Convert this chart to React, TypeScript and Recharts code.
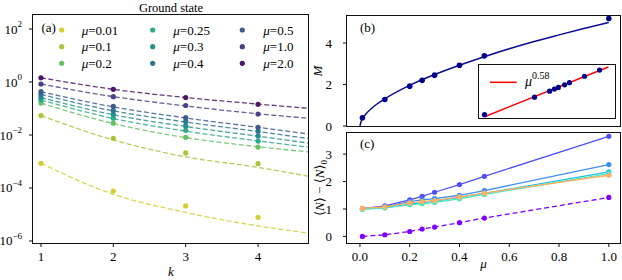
import { ComposedChart, Line, Scatter, XAxis, YAxis } from 'recharts';

const SERIF = "'Liberation Serif', 'Times New Roman', 'DejaVu Serif', serif";
const INK = '#111';

// ---------- (a) ground state, value vs k for each mu
const kPoints = [1, 2, 3, 4];
const kFit = [1, 2, 3, 4, 4.69];
const muLabels = ['0.01', '0.1', '0.2', '0.25', '0.3', '0.4', '0.5', '1.0', '2.0'];
const muColors = ['#d6cd32', '#a8c53c', '#66c163', '#2fa98a', '#23908d', '#2d7590', '#3f5b8e', '#4d3f86', '#4b1766'];
const aTicksY = [1e-6, 1e-4, 1e-2, 1, 100];
const aTicksX = [1, 2, 3, 4];

const gs001 = [8.5e-4, 7.7e-5, 2.1e-5, 7.8e-6];
const gs01 = [0.054, 7.5e-3, 2.1e-3, 8.3e-4];
const gs02 = [0.16, 0.028, 8.2e-3, 3.5e-3];
const gs025 = [0.21, 0.043, 0.015, 5.9e-3];
const gs03 = [0.26, 0.06, 0.022, 9.2e-3];
const gs04 = [0.34, 0.083, 0.032, 0.014];
const gs05 = [0.43, 0.12, 0.045, 0.0195];
const gs10 = [0.84, 0.28, 0.13, 0.062];
const gs20 = [1.45, 0.53, 0.26, 0.144];

const fit001 = [8.5e-4, 5.8e-5, 1.2e-5, 3.7e-6, 2.0e-6];
const fit01 = [0.054, 6.5e-3, 1.5e-3, 6.0e-4, 2.8e-4];
const fit02 = [0.16, 0.027, 8.0e-3, 3.6e-3, 2.3e-3];
const fit025 = [0.21, 0.042, 0.014, 6.0e-3, 3.5e-3];
const fit03 = [0.26, 0.058, 0.021, 9.0e-3, 5.0e-3];
const fit04 = [0.34, 0.082, 0.031, 0.0135, 7.4e-3];
const fit05 = [0.43, 0.115, 0.044, 0.0195, 0.011];
const fit10 = [0.84, 0.28, 0.125, 0.063, 0.043];
const fit20 = [1.45, 0.53, 0.26, 0.147, 0.102];

const gsPoints = [gs001, gs01, gs02, gs025, gs03, gs04, gs05, gs10, gs20];
const gsFits = [fit001, fit01, fit02, fit025, fit03, fit04, fit05, fit10, fit20];

// ---------- (b) M vs mu, with power-law inset
const muB = [0.01, 0.1, 0.2, 0.25, 0.3, 0.4, 0.5, 1.0];
const mB = [0.4, 1.28, 1.92, 2.2, 2.45, 2.93, 3.38, 5.18];
const muCurve = [0, 0.005, 0.01, 0.02, 0.05, 0.1, 0.2, 0.3, 0.4, 0.5, 0.6, 0.7, 0.8, 0.9, 1.0];
const mCurve = [0, 0.23, 0.35, 0.52, 0.88, 1.31, 1.96, 2.48, 2.93, 3.34, 3.72, 4.07, 4.39, 4.7, 4.99];
const bTicksY = [0, 2, 4];

const muInset = [0.01, 0.1, 0.2, 0.25, 0.3, 0.4, 0.5, 1.0, 2.0];
const mInset = [0.4, 1.28, 1.92, 2.2, 2.45, 2.93, 3.38, 5.18, 7.8];
const muPow = [0.01, 3.0];
const mPow = [0.35, 9.6];
const insetTicksX = [0.008, 0.009, 0.01, 0.02, 0.03, 0.04, 0.05, 0.06, 0.07, 0.08, 0.09, 0.1, 0.2, 0.3, 0.4, 0.5, 0.6, 0.7, 0.8, 0.9, 1, 2, 3, 4];
const insetMajorX = [0.01, 0.1, 1];
const insetTicksY = [0.3, 0.4, 0.5, 0.6, 0.7, 0.8, 0.9, 1, 2, 3, 4, 5, 6, 7, 8, 9, 10];
const insetMajorY = [1, 10];

// ---------- (c) <N> - <N>_0 vs mu
const muC = [0.01, 0.1, 0.2, 0.25, 0.3, 0.4, 0.5, 1.0];
const nViolet = [1.01, 1.11, 1.33, 1.46, 1.61, 1.89, 2.19, 3.65];
const nBlue = [1.01, 1.08, 1.27, 1.33, 1.38, 1.5, 1.67, 2.62];
const nCyan = [1.0, 1.05, 1.18, 1.23, 1.28, 1.42, 1.57, 2.35];
const nAqua = [0.99, 1.04, 1.15, 1.19, 1.24, 1.37, 1.53, 2.29];
const nOrange = [1.02, 1.08, 1.22, 1.27, 1.31, 1.44, 1.58, 2.23];
const nDashed = [0.0, 0.06, 0.18, 0.27, 0.34, 0.5, 0.67, 1.42];
const cSeries = [
  { ys: nViolet, color: '#5050f8' },
  { ys: nBlue, color: '#3f8ef3' },
  { ys: nCyan, color: '#1ec3e3' },
  { ys: nAqua, color: '#50e6c0' },
  { ys: nOrange, color: '#ffb060' },
];
const cTicksX = [0, 0.2, 0.4, 0.6, 0.8, 1.0];
const cTicksY = [0, 1, 2, 3];

// panel boxes (page pixels)
const PA = { left: 33, top: 15, right: 308, bottom: 243 };
const PB = { left: 347, top: 16, right: 620, bottom: 126 };
const PC = { left: 347, top: 133, right: 620, bottom: 243 };
const PI = { left: 478, top: 64, right: 616, bottom: 119 };

const toXY = (xs: number[], ys: number[]) => xs.map((x, i) => ({ x, y: ys[i] }));
const dot = (fill: string, r: number) => (p: any) => <circle cx={p.cx} cy={p.cy} r={r} fill={fill} />;
const tickFont = { fontSize: 13, fill: '#000', fontFamily: SERIF };

const PowTick = (p: any) => {
  const e = Math.round(Math.log10(p.payload.value));
  return (
    <text x={p.x} y={p.y} textAnchor="end" fontFamily={SERIF} fontSize={13} fill="#000">
      <tspan dy={4.5}>10</tspan>
      <tspan dy={-6.5} fontSize={9}>{e < 0 ? `\u2212${-e}` : `${e}`}</tspan>
    </text>
  );
};

const insetXTick = (p: any) => (
  <line x1={p.x} y1={p.y} x2={p.x} y2={p.y - (insetMajorX.includes(p.payload.value) ? 4 : 2)} stroke={INK} strokeWidth={0.8} />
);
const insetYTick = (p: any) => (
  <line x1={p.x} y1={p.y} x2={p.x - (insetMajorY.includes(p.payload.value) ? 4 : 2)} y2={p.y} stroke={INK} strokeWidth={0.8} />
);

const muDomain: [number, number] = [-0.052, 1.045];

export default function App() {
  const legendCols = [61.7, 152.7, 242.3];
  const legendText = [81.7, 173.3, 263.3];
  return (
    <div style={{ position: 'absolute', left: 0, top: 0, width: 622, height: 280, background: '#fff', overflow: 'hidden' }}>
      {/* (a) */}
      <div style={{ position: 'absolute', left: 0, top: 0 }}>
        <ComposedChart width={PA.right + 4} height={280} margin={{ top: PA.top, right: 4, left: 0, bottom: 0 }}>
          <XAxis dataKey="x" type="number" domain={[0.89, 4.69]} allowDataOverflow ticks={aTicksX} interval={0}
            height={280 - PA.bottom} axisLine={false} tickSize={4} tickMargin={5} tick={tickFont} stroke={INK} />
          <YAxis type="number" scale="log" domain={[8.4e-7, 338]} allowDataOverflow ticks={aTicksY} interval={0}
            width={PA.left} axisLine={false} tickSize={4} tickMargin={7} tick={PowTick} stroke={INK} />
          {gsFits.map((f, i) => (
            <Line key={`f${i}`} data={toXY(kFit, f)} dataKey="y" type="monotone" stroke={muColors[i]} strokeOpacity={0.85}
              strokeWidth={1.3} strokeDasharray="5 2.5" dot={false} isAnimationActive={false} />
          ))}
          {gsPoints.map((pts, i) => (
            <Scatter key={`p${i}`} data={toXY(kPoints, pts)} dataKey="y" fill={muColors[i]} shape={dot(muColors[i], 2.6)} isAnimationActive={false} />
          ))}
        </ComposedChart>
      </div>

      {/* (b) */}
      <div style={{ position: 'absolute', left: 300, top: 0 }}>
        <ComposedChart width={322} height={PB.bottom + 12} margin={{ top: PB.top, right: 322 - (PB.right - 300), left: 0, bottom: 12 }}>
          <XAxis dataKey="x" type="number" domain={muDomain} allowDataOverflow hide />
          <YAxis type="number" domain={[0, 5.3]} allowDataOverflow ticks={bTicksY} interval={0}
            width={PB.left - 300} axisLine={false} tickSize={4} tickMargin={11} tick={tickFont} stroke={INK} />
          <Line data={toXY(muCurve, mCurve)} dataKey="y" type="monotone" stroke="#0b0b8f" strokeWidth={1.5} dot={false} isAnimationActive={false} />
          <Scatter data={toXY(muB, mB)} dataKey="y" fill="#00008b" shape={dot('#00008b', 2.8)} isAnimationActive={false} />
        </ComposedChart>
      </div>

      {/* inset */}
      <div style={{ position: 'absolute', left: PI.left, top: PI.top, width: PI.right - PI.left, height: PI.bottom - PI.top, background: '#fff', border: `1px solid ${INK}`, boxSizing: 'border-box' }} />
      <div style={{ position: 'absolute', left: PI.left - 6, top: PI.top - 5 }}>
        <ComposedChart width={PI.right - PI.left + 10} height={PI.bottom - PI.top + 7} margin={{ top: 5, right: 4, left: 6, bottom: 2 }}>
          <XAxis dataKey="x" type="number" scale="log" domain={[0.0074, 4.27]} allowDataOverflow orientation="top" height={0}
            ticks={insetTicksX} interval={0} axisLine={false} tickLine={false} tickSize={0} tickMargin={0} tick={insetXTick} />
          <YAxis type="number" scale="log" domain={[0.3, 11.7]} allowDataOverflow width={0}
            ticks={insetTicksY} interval={0} axisLine={false} tickLine={false} tickSize={0} tickMargin={0} tick={insetYTick} />
          <Line data={toXY(muPow, mPow)} dataKey="y" type="linear" stroke="#ff0000" strokeWidth={1.5} dot={false} isAnimationActive={false} />
          <Scatter data={toXY(muInset, mInset)} dataKey="y" fill="#00008b" shape={dot('#00008b', 2.6)} isAnimationActive={false} />
        </ComposedChart>
      </div>

      {/* (c) */}
      <div style={{ position: 'absolute', left: 300, top: 128 }}>
        <ComposedChart width={322} height={152} margin={{ top: PC.top - 128, right: 322 - (PC.right - 300), left: 0, bottom: 0 }}>
          <XAxis dataKey="x" type="number" domain={muDomain} allowDataOverflow ticks={cTicksX} interval={0}
            tickFormatter={(v: number) => v.toFixed(1)} height={280 - PC.bottom} axisLine={false} tickSize={4} tickMargin={5} tick={tickFont} stroke={INK} />
          <YAxis type="number" domain={[-0.24, 3.77]} allowDataOverflow ticks={cTicksY} interval={0}
            width={PC.left - 300} axisLine={false} tickSize={4} tickMargin={11} tick={tickFont} stroke={INK} />
          <Line data={toXY(muC, nDashed)} dataKey="y" type="linear" stroke="#8000ff" strokeWidth={1.3} strokeDasharray="5 3" dot={false} isAnimationActive={false} />
          <Scatter data={toXY(muC, nDashed)} dataKey="y" fill="#8000ff" shape={dot('#8000ff', 2.6)} isAnimationActive={false} />
          {cSeries.map((s, i) => (
            <Line key={`l${i}`} data={toXY(muC, s.ys)} dataKey="y" type="linear" stroke={s.color} strokeWidth={1.3} dot={false} isAnimationActive={false} />
          ))}
          {cSeries.map((s, i) => (
            <Scatter key={`s${i}`} data={toXY(muC, s.ys)} dataKey="y" fill={s.color} shape={dot(s.color, 2.6)} isAnimationActive={false} />
          ))}
        </ComposedChart>
      </div>

      {/* frames, labels, legends */}
      <svg width={622} height={280} style={{ position: 'absolute', left: 0, top: 0, pointerEvents: 'none' }} fontFamily={SERIF} fill="#000">
        {[PA, PB, PC].map((b, i) => (
          <rect key={i} x={b.left - 0.5} y={b.top - 0.5} width={b.right - b.left + 1} height={b.bottom - b.top + 1} fill="none" stroke={INK} strokeWidth={1} />
        ))}
        <text x={171} y={11.5} textAnchor="middle" fontSize={12.5}>Ground state</text>
        <text x={41.5} y={32} fontSize={13}>(a)</text>
        <text x={360} y={32} fontSize={13}>(b)</text>
        <text x={360} y={148} fontSize={13}>(c)</text>
        <text x={171} y={276} textAnchor="middle" fontSize={13} fontStyle="italic">k</text>
        <text x={483.5} y={267.5} textAnchor="middle" fontSize={13} fontStyle="italic">μ</text>
        <text transform="translate(322,71) rotate(-90)" textAnchor="middle" fontSize={13} fontStyle="italic">M</text>
        <text transform="translate(324,188) rotate(-90)" textAnchor="middle" fontSize={13}>
          ⟨<tspan fontStyle="italic">N</tspan>⟩ − ⟨<tspan fontStyle="italic">N</tspan>⟩<tspan dy={3} fontSize={9}>0</tspan>
        </text>
        {muLabels.map((m, i) => {
          const col = Math.floor(i / 3);
          const cy = 30 + (i % 3) * 16.67;
          return (
            <g key={m}>
              <circle cx={legendCols[col]} cy={cy} r={2.6} fill={muColors[i]} />
              <text x={legendText[col]} y={cy + 4.5} fontSize={13}>
                <tspan fontStyle="italic">μ</tspan>={m}
              </text>
            </g>
          );
        })}
        <line x1={490} y1={82.3} x2={516.7} y2={82.3} stroke="#ff0000" strokeWidth={1.5} />
        <text x={525} y={86} fontSize={14}>
          <tspan fontStyle="italic">μ</tspan>
          <tspan dy={-7} fontSize={10}>0.58</tspan>
        </text>
      </svg>
    </div>
  );
}
